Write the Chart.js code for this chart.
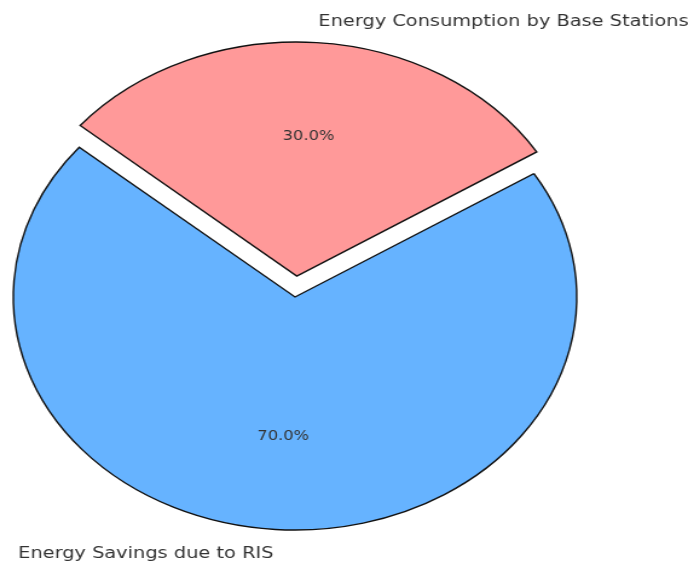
<!DOCTYPE html>
<html>
<head>
<meta charset="utf-8">
<script src="https://cdn.jsdelivr.net/npm/chart.js@4.4.1/dist/chart.umd.min.js"></script>
<style>
  html, body { margin: 0; padding: 0; background: #fff; overflow: hidden; }
  /* the reference pie is stretched sideways, so the whole chart is drawn round and widened */
  #wrap { position: absolute; left: 0; top: 0; width: 569px; height: 562px;
          transform: scaleX(1.2091); transform-origin: 0 0; }
</style>
</head>
<body>
<div id="wrap"><canvas id="pie"></canvas></div>
<script>
    // Data
    const categories = ["Energy Consumption by Base Stations", "Energy Savings due to RIS"];
    const shares = [30, 70];
    const sliceColors = ["#ff9999", "#66b3ff"];

    // Styles
    const RADIUS = 233;
    const EXPLODE = 0.09; // fraction of radius, first slice only
    const FONT = '"DejaVu Sans", sans-serif';
    const TEXT_COLOR = "#333333";

    // ===== LABEL PLUGIN ===== //
    // matplotlib-style: category at 1.1 r, percent at 0.6 r, from the (exploded) slice centre
    const pieLabels = {
      id: "pieLabels",
      afterDatasetsDraw(chart) {
        const ctx = chart.ctx;
        const meta = chart.getDatasetMeta(0);
        const total = shares.reduce((s, v) => s + v, 0);
        ctx.save();
        ctx.fillStyle = TEXT_COLOR;
        ctx.textBaseline = "middle";
        meta.data.forEach((arc, i) => {
          const p = arc.getProps(["x", "y", "startAngle", "endAngle", "outerRadius"], true);
          const mid = (p.startAngle + p.endAngle) / 2;
          const shift = (arc.options.offset || 0) / 4;
          const cx = p.x + Math.cos(mid) * shift;
          const cy = p.y + Math.sin(mid) * shift;
          const r = p.outerRadius;

          ctx.font = "13.5px " + FONT;
          ctx.textAlign = "center";
          ctx.fillText((shares[i] / total * 100).toFixed(1) + "%",
            cx + Math.cos(mid) * r * 0.6, cy + Math.sin(mid) * r * 0.6);

          ctx.font = "16px " + FONT;
          ctx.textAlign = Math.cos(mid) > 0 ? "left" : "right";
          ctx.fillText(categories[i],
            cx + Math.cos(mid) * r * 1.1, cy + Math.sin(mid) * r * 1.1 + 1);
        });
        ctx.restore();
      }
    };

    // ===== CHART ===== //
    new Chart(document.getElementById("pie"), {
      type: "pie",
      data: {
        labels: categories,
        datasets: [{
          data: shares,
          backgroundColor: sliceColors,
          borderColor: "#111111",
          borderWidth: 1.4,
          borderJoinStyle: "miter",
          offset: shares.map((v, i) => i === 0 ? EXPLODE * RADIUS * 4 : 0),
          clip: false
        }]
      },
      options: {
        responsive: true,
        maintainAspectRatio: false,
        animation: false,
        events: [],
        rotation: -50,
        radius: RADIUS,
        layout: { padding: { top: 32, bottom: 0, left: 0, right: 81 } },
        plugins: {
          legend: { display: false },
          tooltip: { enabled: false }
        }
      },
      plugins: [pieLabels]
    });
</script>
</body>
</html>
